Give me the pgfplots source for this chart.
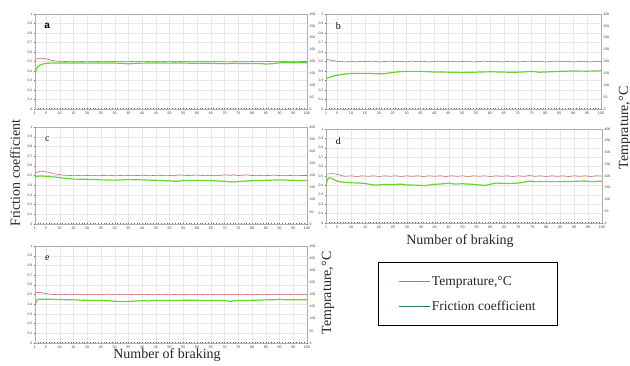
\documentclass[border=0pt]{standalone}
\usepackage{fontspec}
\setmainfont{Liberation Serif}
\setsansfont{Liberation Sans}
\usepackage{pgfplots}
\pgfplotsset{compat=1.18}
\definecolor{tred}{RGB}{205,105,118}
\definecolor{fgreen}{RGB}{100,215,45}
\definecolor{lgreen}{RGB}{30,130,95}
\definecolor{framegray}{RGB}{175,175,175}
\pgfplotsset{
 common/.style={scale only axis, xmin=1, xmax=100,
   tick label style={font=\fontsize{3.6}{4}\selectfont\sffamily, text=black!75},
   yticklabel style={font=\fontsize{3.4}{3.8}\selectfont\sffamily, inner sep=1pt},
   /pgf/number format/assume math mode=true,
   axis line style={framegray, line width=0.8pt},
   tick style={black!60, line width=0.3pt},
   major tick length=1.5pt, minor tick length=1pt},
 mainax/.style={common, ymin=0, ymax=1,
   xtick={1,5,10,...,100}, minor xtick={1,...,100},
   ytick={0,0.1,0.2,0.3,0.4,0.5,0.6,0.7,0.8,0.9,1},
   xmajorgrids, ymajorgrids, grid style={gray!18, line width=0.3pt},
   xtick pos=bottom, ytick pos=left, xtick align=inside, ytick align=outside,
   xticklabel style={yshift=1pt}},
 secax/.style={common, ymin=0, ymax=400, axis y line*=right, axis x line=none,
   ytick={0,50,...,400}, ytick align=outside},
}
\newcommand{\panel}[8]{%
 \begin{axis}[mainax, at={#1}, anchor=north west, width=#2, height=#3]
  \addplot[fgreen, line width=1.2pt] coordinates {#6};
  \node[fill=white, inner sep=1.5pt, font=\fontsize{10}{10}\selectfont] at (rel axis cs:0.045,0.87) {#4};
 \end{axis}
 \begin{axis}[secax, at={#1}, anchor=north west, width=#2, height=#3, #7]
  \addplot[tred, line width=0.6pt, forget plot] coordinates {#5};
  #8
 \end{axis}}
\begin{document}
\begin{tikzpicture}
\path[use as bounding box, fill=white] (0,0) rectangle (630pt,-365pt);
% a
\panel{(35pt,-14pt)}{272pt}{95pt}{\sffamily\bfseries a}
{(1,208)(2,212)(3,214)(4,213)(5,211)(6,208)(7,205)(8,203)(9,202)(10,201)(12,200)(14,201)(16,199)(18,200)(20,201)(22,199)(24,200)(26,201)(28,199)(30,200)(32,201)(34,199)(36,200)(38,201)(40,199)(42,200)(44,201)(46,199)(48,200)(50,201)(52,199)(54,200)(56,201)(58,199)(60,200)(62,201)(64,199)(66,200)(68,201)(70,199)(72,198)(74,200)(76,201)(78,199)(80,200)(82,199)(84,201)(86,200)(88,199)(90,201)(92,200)(94,201)(96,199)(98,200)(100,200)}
{(1,0.37)(1.5,0.42)(2,0.445)(3,0.465)(4,0.475)(5,0.48)(7,0.484)(10,0.485)(15,0.485)(20,0.483)(25,0.485)(30,0.484)(33,0.48)(35,0.476)(37,0.48)(40,0.483)(45,0.484)(50,0.483)(55,0.484)(60,0.48)(63,0.482)(68,0.479)(70,0.477)(73,0.481)(78,0.478)(82,0.48)(85,0.474)(87,0.476)(90,0.486)(95,0.488)(100,0.486)}
{}{}
% b
\panel{(326pt,-14pt)}{275pt}{95pt}{b}
{(1,208)(2,207)(3,205)(4,203)(5,201)(6,200)(8,198)(10,201)(12,198)(14,201)(16,199)(18,202)(20,198)(22,200)(24,202)(26,199)(28,201)(30,198)(32,202)(34,199)(36,201)(38,198)(40,200)(42,202)(44,199)(46,201)(48,198)(50,200)(52,201)(54,198)(56,200)(58,202)(60,199)(62,201)(64,198)(66,200)(68,201)(70,198)(72,200)(74,202)(76,199)(78,201)(80,198)(82,200)(84,202)(86,199)(88,201)(90,198)(92,200)(94,201)(96,198)(98,200)(100,199)}
{(1,0.32)(2,0.33)(3,0.34)(4,0.35)(5,0.355)(7,0.365)(9,0.372)(12,0.375)(15,0.375)(18,0.373)(20,0.37)(22,0.372)(24,0.38)(26,0.388)(28,0.394)(30,0.396)(35,0.396)(38,0.392)(40,0.39)(45,0.388)(50,0.385)(55,0.388)(60,0.392)(65,0.389)(68,0.386)(72,0.39)(75,0.396)(78,0.387)(80,0.39)(85,0.396)(90,0.4)(95,0.398)(100,0.402)}
{}{}
% c
\panel{(35pt,-127pt)}{272pt}{97pt}{c}
{(1,208)(2,214)(3,218)(4,217)(5,215)(6,213)(7,210)(8,207)(9,205)(10,204)(11,202)(12,201)(14,200)(16,201)(18,199)(20,200)(22,201)(24,199)(26,200)(28,201)(30,199)(32,200)(34,201)(36,199)(38,200)(40,201)(42,199)(44,200)(46,201)(48,199)(50,200)(52,199)(53,203)(55,201)(57,200)(60,202)(62,200)(64,201)(66,199)(68,200)(70,203)(72,201)(73,203)(75,200)(78,203)(80,200)(82,201)(84,199)(86,200)(88,202)(90,200)(92,199)(94,200)(96,199)(98,200)(100,200)}
{(1,0.49)(3,0.495)(5,0.492)(8,0.485)(10,0.478)(12,0.47)(15,0.463)(20,0.461)(25,0.455)(30,0.452)(35,0.458)(40,0.455)(45,0.45)(50,0.445)(52,0.44)(55,0.447)(60,0.45)(65,0.448)(70,0.44)(73,0.432)(76,0.44)(80,0.447)(85,0.45)(90,0.455)(95,0.45)(100,0.447)}
{}{}
% d
\panel{(326pt,-129pt)}{276pt}{94pt}{d}
{(1,207)(2,209)(3,210)(4,209)(5,207)(6,204)(7,201)(8,199)(10,201)(12,198)(14,201)(16,199)(18,201)(20,198)(22,201)(24,199)(26,201)(28,198)(30,201)(32,199)(34,201)(36,198)(38,201)(40,199)(42,201)(44,198)(46,201)(48,199)(50,201)(52,198)(54,201)(56,199)(58,201)(60,198)(62,201)(64,199)(66,201)(68,198)(70,201)(72,199)(74,202)(76,199)(78,201)(80,198)(82,201)(84,199)(86,201)(88,198)(90,201)(92,199)(94,201)(96,198)(98,201)(100,200)}
{(1,0.40)(1.5,0.46)(2,0.48)(3,0.475)(4,0.46)(5,0.445)(7,0.435)(10,0.428)(13,0.425)(15,0.42)(18,0.405)(20,0.405)(22,0.41)(25,0.41)(28,0.413)(30,0.405)(33,0.403)(35,0.40)(37,0.398)(39,0.41)(42,0.415)(44,0.42)(45,0.425)(47,0.415)(50,0.417)(53,0.413)(56,0.405)(58,0.40)(60,0.412)(62,0.425)(65,0.42)(68,0.422)(70,0.425)(72,0.435)(74,0.445)(76,0.44)(80,0.44)(85,0.44)(90,0.443)(94,0.447)(96,0.44)(100,0.445)}
{}{}
% e
\panel{(35pt,-246pt)}{272pt}{97pt}{e}
{(1,207)(2,209)(3,208)(4,206)(5,204)(6,202)(7,201)(8,200)(10,199)(12,200)(14,199)(16,201)(18,199)(20,200)(22,201)(24,199)(26,200)(28,202)(30,199)(32,200)(34,199)(36,200)(38,201)(40,199)(42,200)(44,199)(46,200)(48,201)(50,199)(52,200)(54,199)(56,200)(58,201)(60,199)(62,200)(64,199)(66,200)(68,199)(70,200)(72,199)(74,201)(76,199)(78,200)(80,199)(82,200)(84,199)(86,200)(88,199)(90,200)(92,199)(94,200)(96,199)(98,200)(100,199)}
{(1,0.39)(1.5,0.43)(2,0.45)(5,0.452)(10,0.448)(15,0.445)(20,0.44)(25,0.438)(28,0.435)(30,0.43)(33,0.428)(36,0.43)(40,0.437)(42,0.433)(45,0.44)(50,0.438)(55,0.44)(60,0.44)(65,0.438)(70,0.438)(72,0.43)(74,0.437)(80,0.44)(85,0.445)(90,0.448)(95,0.445)(100,0.445)}
{legend style={at={(1.261,0.835)}, anchor=north west, draw=black, line width=0.6pt,
   font=\fontsize{13.5}{14}\selectfont, text=black!85, inner xsep=20pt, inner ysep=12pt,
   row sep=10pt, cells={anchor=west}},
 legend image code/.code={\draw[#1, line width=0.7pt] (0pt,0pt) -- (31pt,0pt);}}
{\addlegendimage{tred}\addlegendentry{Temprature,°C}
 \addlegendimage{lgreen}\addlegendentry{Friction coefficient}}
% labels
\node[rotate=90, font=\fontsize{14}{14}\selectfont, text=black!85] at (15pt,-173pt) {Friction coefficient};
\node[rotate=90, font=\fontsize{14}{14}\selectfont, text=black!85] at (625pt,-128pt) {Temprature,°C};
\node[rotate=90, font=\fontsize{14}{14}\selectfont, text=black!85] at (328pt,-293pt) {Temprature,°C};
\node[font=\fontsize{14}{14}\selectfont, text=black!85] at (460pt,-241pt) {Number of braking};
\node[font=\fontsize{14}{14}\selectfont, text=black!85] at (167pt,-355pt) {Number of braking};
\end{tikzpicture}
\end{document}
